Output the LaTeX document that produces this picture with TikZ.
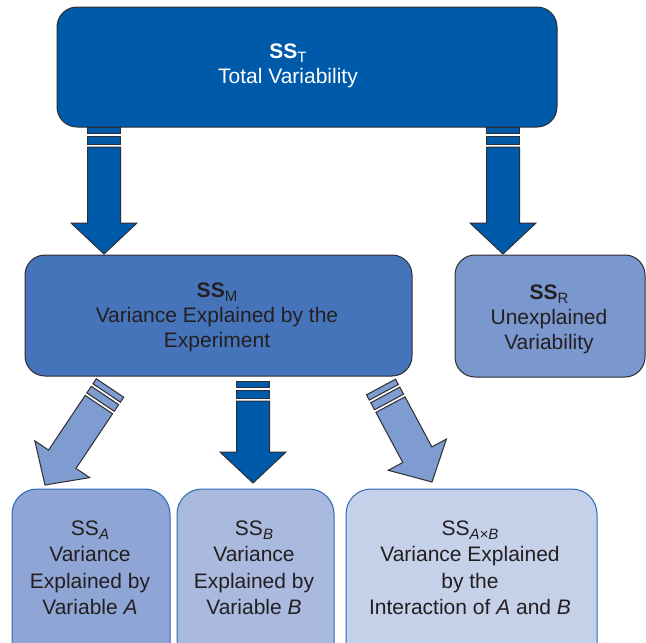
\documentclass[tikz,border=0pt]{standalone}
\usepackage{fontspec}
\setmainfont{Liberation Sans}
\usetikzlibrary{calc}
\definecolor{topblue}{RGB}{0,90,170}
\definecolor{midblue}{RGB}{70,116,187}
\definecolor{resblue}{RGB}{122,151,206}
\definecolor{ablue}{RGB}{142,165,213}
\definecolor{bblue}{RGB}{170,186,223}
\definecolor{abblue}{RGB}{197,208,233}
\definecolor{lightarrow}{RGB}{126,156,208}
\definecolor{boxline}{RGB}{45,45,50}
\definecolor{lowline}{RGB}{40,105,180}
\definecolor{textdark}{RGB}{35,31,32}
\newcommand\mysub[1]{\raisebox{-4pt}{\fontsize{15}{15}\selectfont\mdseries #1}}
\tikzset{
  box/.style={rounded corners=20pt, line width=1pt, draw=boxline, inner sep=0pt},
  lowbox/.style={rounded corners=25pt, line width=1pt, draw=lowline, inner sep=0pt},
  lbl/.style={align=center, font=\fontsize{21}{25}\selectfont, inner sep=0pt, text=textdark},
  barrow/.style={draw=boxline, line width=1pt, line join=miter},
}
\newcommand\blockarrow[3]{%
  \path (#1) coordinate (p0) ($(#1)!6pt!(#2)$) coordinate (p1)
        ($(#1)!9pt!(#2)$) coordinate (p2) ($(#1)!17pt!(#2)$) coordinate (p3)
        ($(#1)!20pt!(#2)$) coordinate (p4) ($(#2)!31pt!(#1)$) coordinate (p5);
  \draw[barrow, fill=#3] ($(p0)!16.5pt!90:(#2)$) -- ($(p0)!16.5pt!-90:(#2)$)
        -- ($(p1)!16.5pt!-90:(#2)$) -- ($(p1)!16.5pt!90:(#2)$) -- cycle;
  \draw[barrow, fill=#3] ($(p2)!16.5pt!90:(#2)$) -- ($(p2)!16.5pt!-90:(#2)$)
        -- ($(p3)!16.5pt!-90:(#2)$) -- ($(p3)!16.5pt!90:(#2)$) -- cycle;
  \draw[barrow, fill=#3] ($(p4)!16.5pt!90:(#2)$) -- ($(p5)!16.5pt!90:(#2)$)
        -- ($(p5)!33pt!90:(#2)$) -- (#2) -- ($(p5)!33pt!-90:(#2)$)
        -- ($(p5)!16.5pt!-90:(#2)$) -- ($(p4)!16.5pt!-90:(#2)$) -- cycle;
}
\begin{document}
\begin{tikzpicture}[x=1pt,y=-1pt]
\useasboundingbox (0,0) rectangle (646,643);
\clip (0,0) rectangle (646,643);
% boxes
\node[box, fill=topblue, minimum width=500pt, minimum height=120pt] (top) at (307,67) {};
\node[box, fill=midblue, minimum width=387pt, minimum height=121pt] (ssm) at (218.5,315.5) {};
\node[box, fill=resblue, minimum width=190pt, minimum height=122pt] (ssr) at (550,316) {};
\node[lowbox, fill=ablue, minimum width=158pt, minimum height=190pt] (boxa) at (91,584) {};
\node[lowbox, fill=bblue, minimum width=157pt, minimum height=190pt] (boxb) at (255.5,584) {};
\node[lowbox, fill=abblue, minimum width=251pt, minimum height=190pt] (boxab) at (471.5,584) {};
% texts
\node[lbl, text=white] (ttop) at (288,66) {\textbf{SS}\mysub{T}\\Total Variability};
\node[lbl] (tssm) at (217,317) {\textbf{SS}\mysub{M}\\Variance Explained by the\\Experiment};
\node[lbl] (tssr) at (549,319) {\textbf{SS}\mysub{R}\\Unexplained\\Variability};
\node[lbl, font=\fontsize{21}{26.5}\selectfont] (ta) at (90,568) {SS\mysub{\itshape A}\\Variance\\Explained by\\Variable \textit{A}};
\node[lbl, font=\fontsize{21}{26.5}\selectfont] (tb) at (254,568) {SS\mysub{\itshape B}\\Variance\\Explained by\\Variable \textit{B}};
\node[lbl, font=\fontsize{21}{26.5}\selectfont] (tab) at (470,568) {SS\mysub{\itshape A×B}\\Variance Explained\\by the\\Interaction of \textit{A} and \textit{B}};
% arrow end points
\coordinate (a1s) at (104,127);
\coordinate (a1t) at (104,254);
\coordinate (a2s) at (503,127);
\coordinate (a2t) at (503,254);
\coordinate (a3s) at (253,381);
\coordinate (a3t) at (253,483);
\coordinate (a4s) at (110,388);
\coordinate (a4t) at (45,485);
\coordinate (a5s) at (381,387);
\coordinate (a5t) at (432,482);
\blockarrow{a1s}{a1t}{topblue}
\blockarrow{a2s}{a2t}{topblue}
\blockarrow{a3s}{a3t}{topblue}
\blockarrow{a4s}{a4t}{lightarrow}
\blockarrow{a5s}{a5t}{lightarrow}
\end{tikzpicture}
\end{document}
